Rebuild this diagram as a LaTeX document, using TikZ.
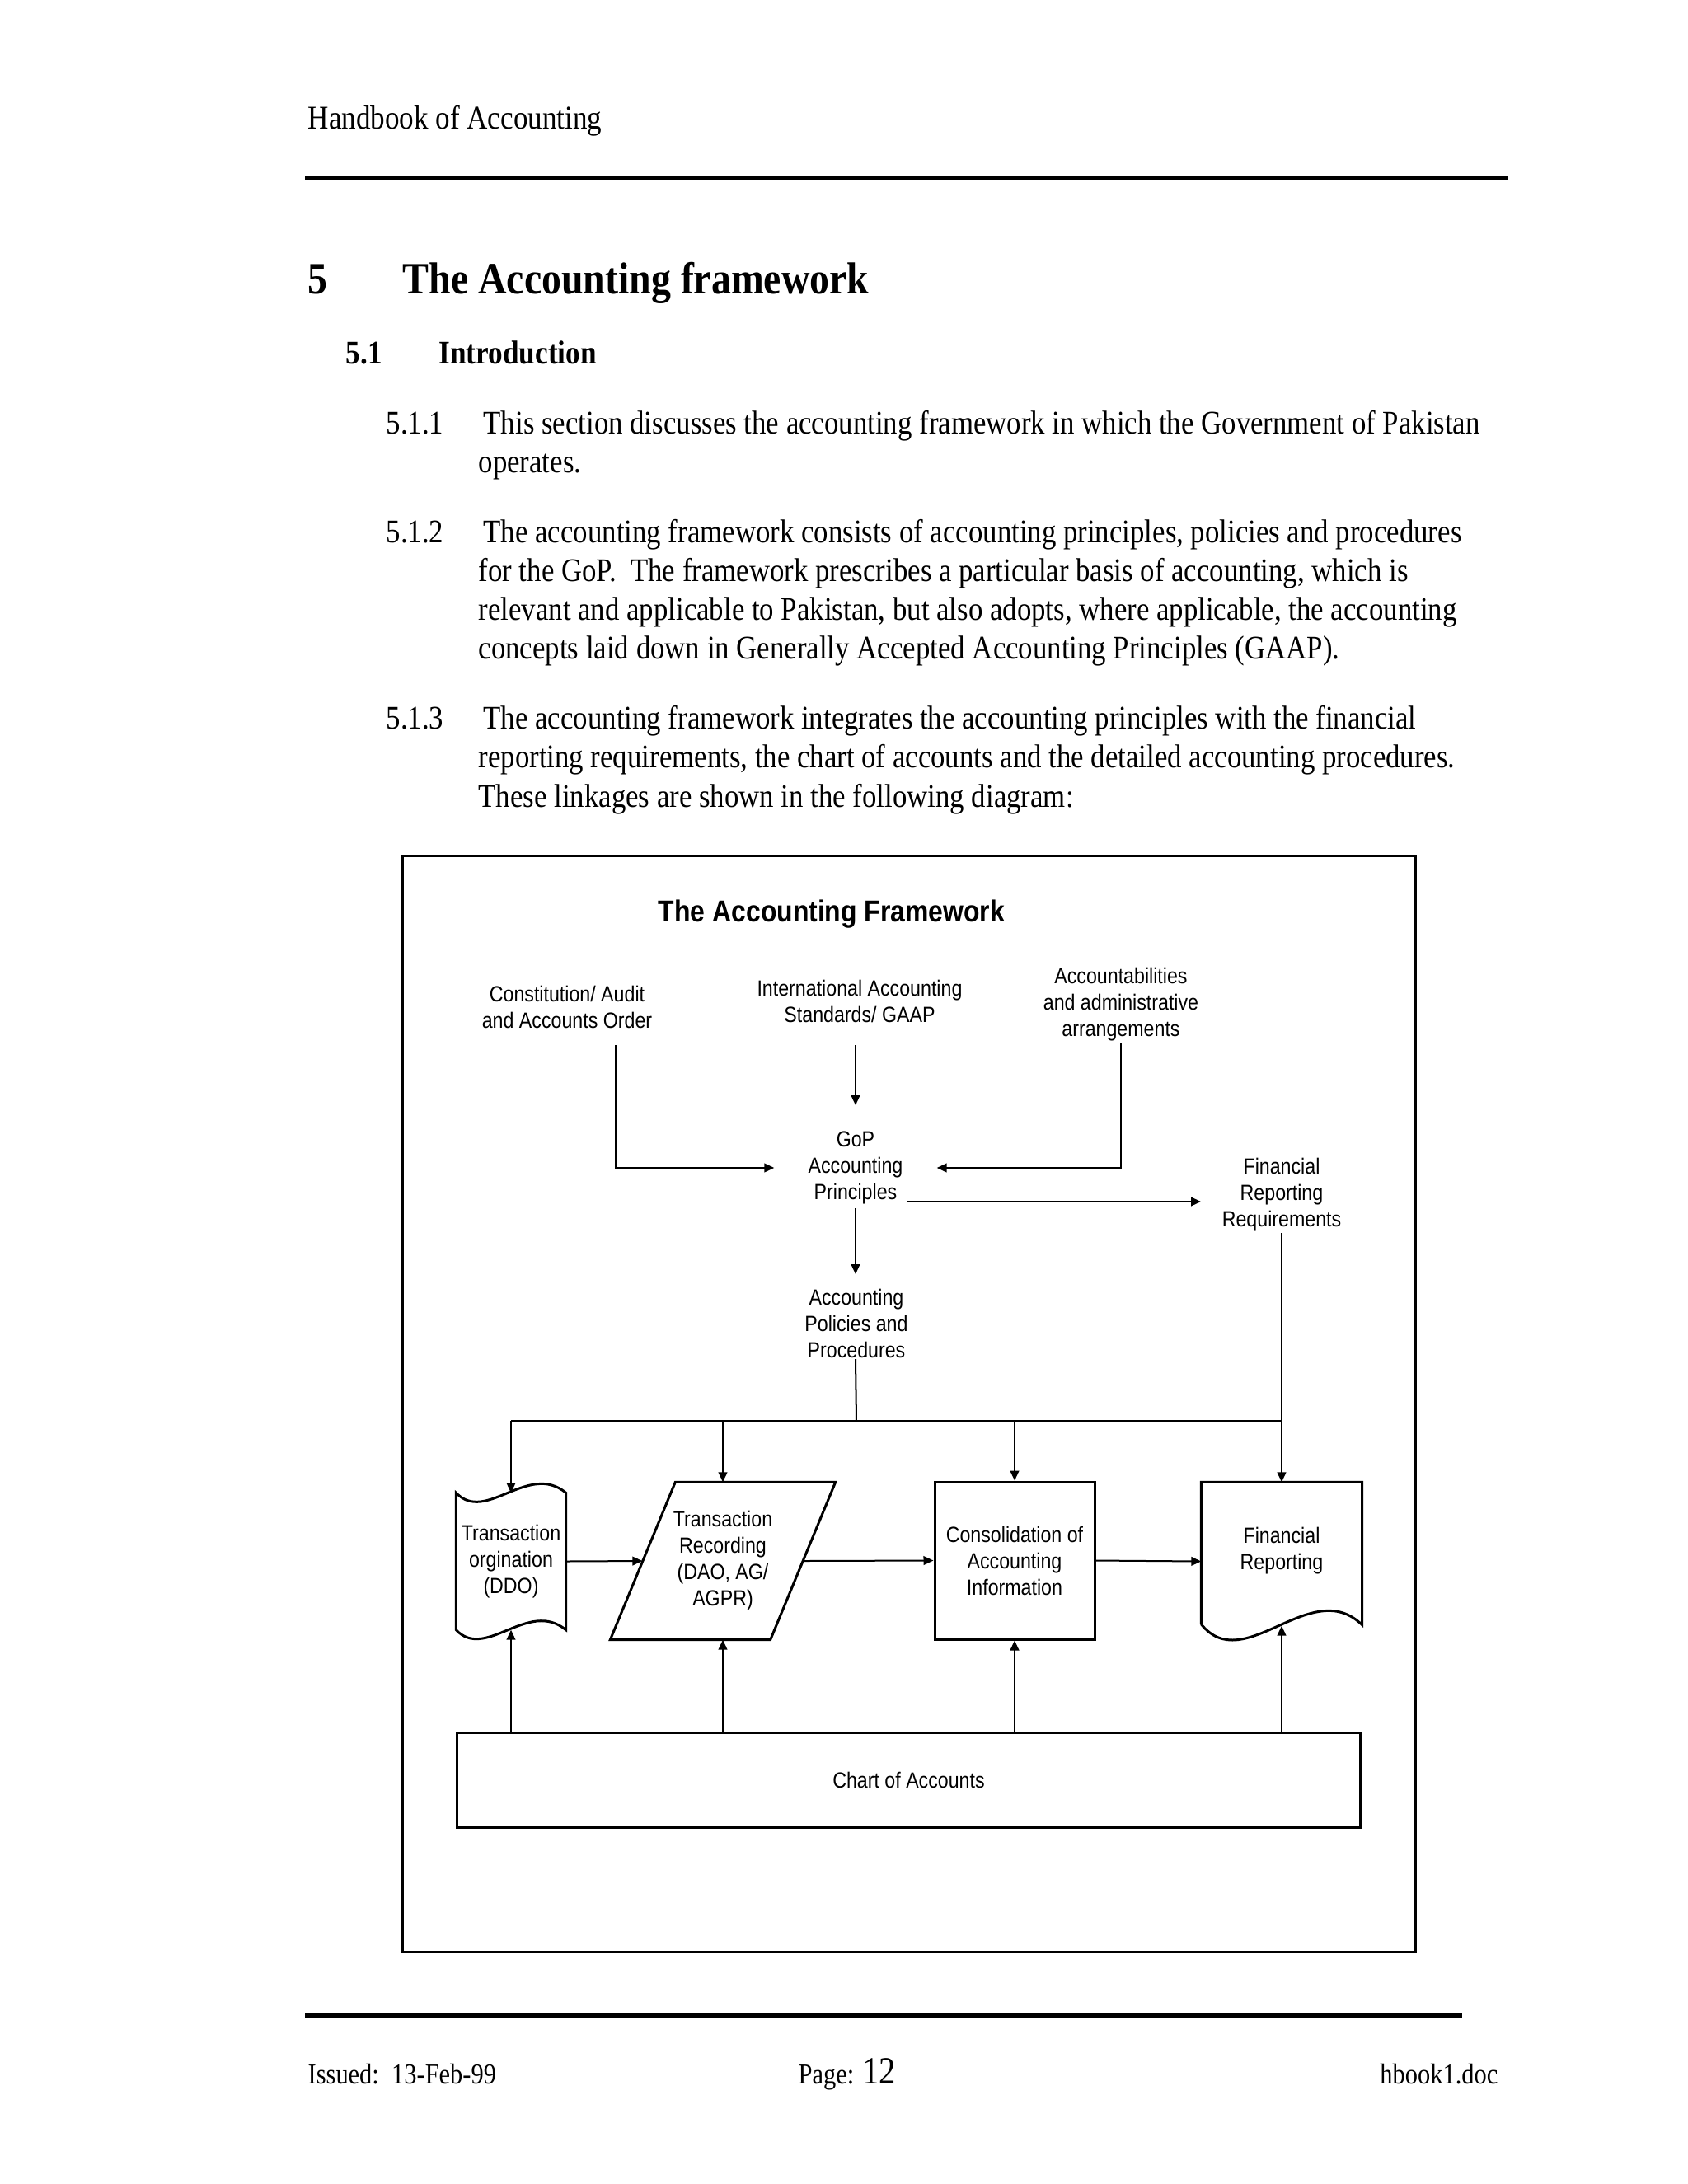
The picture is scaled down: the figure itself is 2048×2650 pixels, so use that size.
\documentclass[tikz,border=0pt]{standalone}
\usepackage{fontspec}
\setmainfont{Liberation Serif}[FakeStretch=0.87,BoldFeatures={FakeStretch=0.88}]
\newfontfamily\diagfont{Liberation Sans}[FakeStretch=0.87]
\usetikzlibrary{arrows.meta,calc,positioning}
\tikzstyle{body}=[anchor=base west,inner sep=0pt,font=\fontsize{12}{14}\selectfont]
\tikzstyle{foot}=[anchor=base west,inner sep=0pt,font=\fontsize{10.5}{12}\selectfont]
\tikzstyle{lbl}=[align=center,inner sep=0pt,font=\diagfont\fontsize{8}{9.6}\selectfont]
\tikzstyle{box}=[lbl,minimum width=58.2pt,minimum height=57.3pt]
\tikzstyle{edge} = [draw,line width=0.6pt,-{Triangle[length=3.6pt,width=3.2pt]}]
\tikzstyle{plainedge} = [draw,line width=0.6pt]
\tikzstyle{outline} = [draw,line width=0.9pt]
\tikzstyle{rule} = [draw,line width=1.5pt]
\begin{document}
\begin{tikzpicture}[x=0.010542cm,y=-0.010542cm]
  \useasboundingbox (0,0) rectangle (2048,2650);
  \fill[white] (0,0) rectangle (2048,2650);

  % page header and footer
  \node[body,font=\fontsize{12.1}{14}\selectfont] (head) at (373,156) {Handbook of Accounting};
  \path[rule] (370,216) -- (1830,216);
  \path[rule] (370,2445) -- (1774,2445);
  \node[foot] (issued) at (373,2528) {Issued:\ \ 13-Feb-99};
  \node[foot] (page) at (968,2528) {Page: {\fontsize{14}{16}\selectfont 12}};
  \node[foot,anchor=base east] (file) at (1818,2528) {hbook1.doc};

  % headings
  \node[body,font=\fontsize{16.3}{19}\selectfont\bfseries] (chapno) at (373,356) {5};
  \node[body,font=\fontsize{16.3}{19}\selectfont\bfseries] (chap) at (488,356) {The Accounting framework};
  \node[body,font=\fontsize{12}{14}\selectfont\bfseries] (secno) at (419,441) {5.1};
  \node[body,font=\fontsize{12}{14}\selectfont\bfseries] (sec) at (532,441) {Introduction};

  % paragraphs
  \foreach \pos/\name/\label in {{(468,526)/pa/5.1.1}, {(468,658)/pb/5.1.2}, {(468,884)/pc/5.1.3}}
     \node[body] (\name) at \pos {\label};
  \foreach \pos/\name/\label in {{(586,526)/pa1/{This section discusses the accounting framework in which the Government of Pakistan}},
      {(580,573)/pa2/{operates.}},
      {(586,658)/pb1/{The accounting framework consists of accounting principles, policies and procedures}},
      {(580,705)/pb2/{for the GoP.\ \ The framework prescribes a particular basis of accounting, which is}},
      {(580,752)/pb3/{relevant and applicable to Pakistan, but also adopts, where applicable, the accounting}},
      {(580,799)/pb4/{concepts laid down in Generally Accepted Accounting Principles (GAAP).}},
      {(586,884)/pc1/{The accounting framework integrates the accounting principles with the financial}},
      {(580,931)/pc2/{reporting requirements, the chart of accounts and the detailed accounting procedures.}},
      {(580,979)/pc3/{These linkages are shown in the following diagram:}}}
     \node[body] (\name) at \pos {\label};

  % diagram
  \path[outline] (488,1038) rectangle (1717,2368);
  \node[lbl,font=\diagfont\fontsize{11}{13}\selectfont\bfseries] (title) at (1009,1109) {The Accounting Framework};

  \foreach \pos/\name/\label in {{(688,1222)/const/{Constitution/ Audit\\and Accounts Order}},
      {(1043,1215)/ias/{International Accounting\\Standards/ GAAP}},
      {(1360,1219)/acct/{Accountabilities\\and administrative\\arrangements}},
      {(1555,1450)/frr/{Financial\\Reporting\\Requirements}},
      {(1039,1606)/pol/{Accounting\\Policies and\\Procedures}}}
     \node[lbl] (\name) at \pos {\label};
  \node[lbl,minimum width=58.8pt] (gop) at (1038,1417) {GoP\\Accounting\\Principles};

  \node[box,minimum width=39.6pt,minimum height=49.5pt] (orig) at (620,1894.5) {Transaction\\orgination\\(DDO)};
  \node[box,minimum width=81.6pt,minimum height=57pt] (rec) at (877,1894) {Transaction\\Recording\\(DAO, AG/\\AGPR)};
  \node[box,outline] (cons) at (1231,1893.5) {Consolidation of\\Accounting\\Information};
  \node[box] (finrep) at (1555,1894.5) {Financial\\Reporting\\\mbox{}};
  \node[box,outline,minimum width=329pt,minimum height=34.5pt] (chart) at (1102.5,2159.5) {Chart of Accounts};

  % shape outlines
  \path[outline] (orig.north west) .. controls +(36,38) and +(-46,-38) .. (orig.north east)
     -- (orig.south east) .. controls +(-46,-38) and +(36,38) .. (orig.south west) -- cycle;
  \path[outline] ($(rec.north west)+(79,0)$) -- (rec.north east) -- ($(rec.south east)+(-79,0)$)
     -- (rec.south west) -- cycle;
  \path[outline] ($(finrep.south west)+(0,-20)$) -- (finrep.north west) -- (finrep.north east)
     -- ($(finrep.south east)+(0,-19)$) .. controls +(-62,-61) and +(52,65) .. ($(finrep.south west)+(0,-20)$);

  % connectors
  \coordinate (busL) at (620,1724);
  \coordinate (busR) at (1555,1724);
  \path[edge] ($(const)+(59,46)$) |- (gop.west);
  \path[edge] ($(ias)+(-5,53)$) -- ($(gop)+(0,-76)$);
  \path[edge] ($(acct)+(0,46)$) |- (gop.east);
  \path[edge] ($(gop)+(62,41)$) -- ++(357,0);
  \path[edge] ($(gop)+(0,49)$) -- ($(pol)+(-1,-60)$);
  \path[plainedge] ($(pol)+(-1,43)$) -- (pol |- busL);
  \path[plainedge] (busL) -- (busR);
  \path[edge] ($(frr)+(0,46)$) -- (finrep.north);
  \foreach \dest in {orig, rec, cons}
     \path[edge] (busL -| \dest) -- (\dest.north);
  \path[edge] (orig.east) -- ($(rec.west)+(39,0)$);
  \path[edge] ($(rec.east)+(-39,0)$) -- (cons.west);
  \path[edge] (cons.east) -- (finrep.west);
  \foreach \dest in {orig, rec, cons}
     \path[edge] (chart.north -| \dest) -- (\dest.south);
  \path[edge] (chart.north -| finrep) -- ($(finrep.south)+(0,-18)$);
\end{tikzpicture}
\end{document}
